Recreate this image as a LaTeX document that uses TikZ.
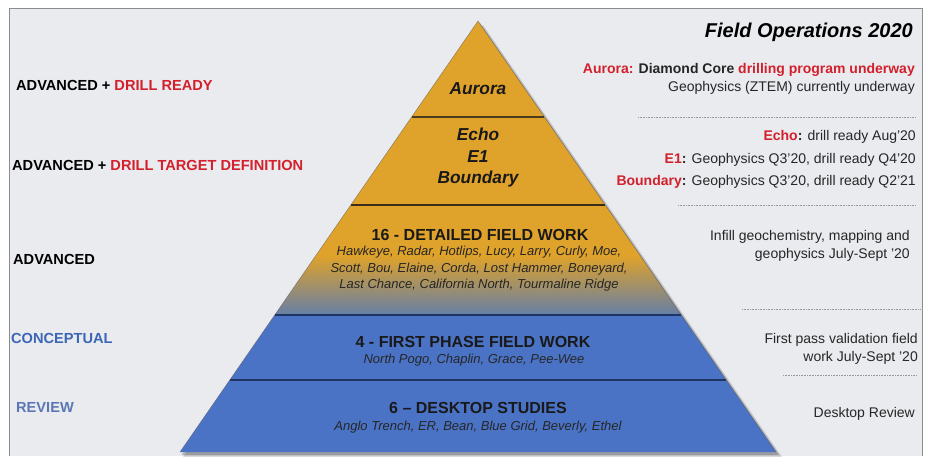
\documentclass[tikz,border=0pt]{standalone}
\usepackage{fontspec}
\setmainfont{Liberation Sans}
\usetikzlibrary{calc}
\definecolor{bgc}{HTML}{E9EBEF}
\definecolor{framec}{HTML}{8A8C90}
\definecolor{orangeC}{HTML}{DFA22A}
\definecolor{blueC}{HTML}{4A73C5}
\definecolor{bluegray}{HTML}{6A80A2}
\definecolor{redC}{HTML}{D3202C}
\definecolor{concC}{HTML}{3D66B5}
\definecolor{revC}{HTML}{5B78B5}
\definecolor{divO}{HTML}{4A3A1E}
\definecolor{divB}{HTML}{1E3462}
\pgfdeclareverticalshading{fieldshade}{100bp}{color(0bp)=(bluegray); color(26bp)=(bluegray); color(52bp)=(orangeC); color(100bp)=(orangeC)}
\begin{document}
\begin{tikzpicture}[x=1pt,y=-1pt,
  rtext/.style={font=\fontsize{14}{18}\selectfont, inner sep=0pt, anchor=base east, text=black!85},
  ltext/.style={font=\fontsize{14.6}{17}\selectfont\bfseries, inner sep=0pt, anchor=base west},
  ptitle/.style={font=\fontsize{17.3}{21.5}\selectfont\bfseries\itshape, inner sep=0pt, align=center, text=black!90},
  phead/.style={font=\fontsize{16}{18}\selectfont\bfseries, inner sep=0pt, text=black!90},
  plist/.style={font=\fontsize{13}{16.5}\selectfont\itshape, inner sep=0pt, align=center, text=black!85},
  dotline/.style={draw=gray!80, line width=0.6pt, dash pattern=on 0.8pt off 0.8pt},
  divline/.style={line width=1.5pt}]
\useasboundingbox (0,0) rectangle (933,456);
\fill[white] (0,0) rectangle (933,456);
\fill[bgc] (9,8) rectangle (922,456);
\draw[framec, line width=1pt] (9,456) -- (9,8) -- (922,8) -- (922,456);

% pyramid geometry
\coordinate (apex) at (478,21);
\coordinate (bl) at (180,452);
\coordinate (br) at (776,452);
\coordinate (l1) at ($(apex)!0.2227!(bl)$);
\coordinate (r1) at ($(apex)!0.2227!(br)$);
\coordinate (l2) at ($(apex)!0.4269!(bl)$);
\coordinate (r2) at ($(apex)!0.4269!(br)$);
\coordinate (l3) at ($(apex)!0.6821!(bl)$);
\coordinate (r3) at ($(apex)!0.6821!(br)$);
\coordinate (l4) at ($(apex)!0.8329!(bl)$);
\coordinate (r4) at ($(apex)!0.8329!(br)$);

% shadow
\fill[black, opacity=0.15] ($(apex)+(5,4)$) -- ($(br)+(6,5)$) -- ($(bl)+(3,5)$) -- cycle;
\fill[black, opacity=0.22] ($(apex)+(2,2)$) -- ($(br)+(3,3)$) -- ($(bl)+(1.5,3)$) -- cycle;

% layers
\fill[orangeC] (apex) -- (r1) -- (l1) -- cycle;
\fill[orangeC] (l1) -- (r1) -- (r2) -- (l2) -- cycle;
\shade[shading=fieldshade] (l2) -- (r2) -- (r3) -- (l3) -- cycle;
\fill[blueC] (l3) -- (r3) -- (br) -- (bl) -- cycle;
\draw[divline, divO] (l1) -- (r1);
\draw[divline, divO!80!black] (l2) -- (r2);
\draw[divline, divB] (l3) -- (r3);
\draw[divline, divB] (l4) -- (r4);
\draw[gray!70!black, line width=0.5pt, opacity=0.6] (bl) -- (apex) -- (br);

% pyramid texts
\node[ptitle] (aurora) at (478,89) {Aurora};
\node[ptitle] (echo) at (478,158) {Echo\\E1\\Boundary};
\node[phead] (detailed) at (480,235) {16 - DETAILED FIELD WORK};
\node[plist] (detlist) at (479,269) {Hawkeye, Radar, Hotlips, Lucy, Larry, Curly, Moe,\\Scott, Bou, Elaine, Corda, Lost Hammer, Boneyard,\\Last Chance, California North, Tourmaline Ridge};
\node[phead] (first) at (473,342) {4 - FIRST PHASE FIELD WORK};
\node[plist] (firstlist) at (474,360) {North Pogo, Chaplin, Grace, Pee-Wee};
\node[phead] (desk) at (478,408) {6 -- DESKTOP STUDIES};
\node[plist] (desklist) at (478,427) {Anglo Trench, ER, Bean, Blue Grid, Beverly, Ethel};

% left labels (baseline = visual centre + 5.2)
\node[ltext] (lab1) at (16,90.2) {ADVANCED + \textcolor{redC}{DRILL READY}};
\node[ltext] (lab2) at (12,170.2) {ADVANCED + \textcolor{redC}{DRILL TARGET DEFINITION}};
\node[ltext] (lab3) at (13,264.2) {ADVANCED};
\node[ltext, text=concC] (lab4) at (11,343.2) {CONCEPTUAL};
\node[ltext, text=revC] (lab5) at (16,412.2) {REVIEW};

% right texts (baseline = visual centre + 5)
\node[inner sep=0pt, anchor=base east, font=\fontsize{20}{24}\selectfont\bfseries\itshape] (title) at (913,37) {Field Operations 2020};
\node[rtext] (r_aur1) at (915,73) {\textbf{\textcolor{redC}{Aurora:} Diamond Core \textcolor{redC}{drilling program underway}}};
\node[rtext] (r_aur2) at (915,91) {Geophysics (ZTEM) currently underway};
\coordinate (d1a) at (638,117); \coordinate (d1b) at (915,117);
\draw[dotline] (d1a) -- (d1b);
\node[rtext] (r_echo) at (916,140) {\textbf{\textcolor{redC}{Echo}:} drill ready Aug'20};
\node[rtext] (r_e1) at (916,163) {\textbf{\textcolor{redC}{E1}:} Geophysics Q3'20, drill ready Q4'20};
\node[rtext] (r_bnd) at (916,185) {\textbf{\textcolor{redC}{Boundary}:} Geophysics Q3'20, drill ready Q2'21};
\coordinate (d2a) at (678,205); \coordinate (d2b) at (915,205);
\draw[dotline] (d2a) -- (d2b);
\node[rtext] (r_inf1) at (910,240) {Infill geochemistry, mapping and};
\node[rtext] (r_inf2) at (910,258) {geophysics July-Sept '20};
\coordinate (d3a) at (742,309); \coordinate (d3b) at (921,309);
\draw[dotline] (d3a) -- (d3b);
\node[rtext] (r_fp1) at (918,343) {First pass validation field};
\node[rtext] (r_fp2) at (918,361) {work July-Sept '20};
\coordinate (d4a) at (783,375); \coordinate (d4b) at (917,375);
\draw[dotline] (d4a) -- (d4b);
\node[rtext] (r_desk) at (915,417) {Desktop Review};
\end{tikzpicture}
\end{document}
